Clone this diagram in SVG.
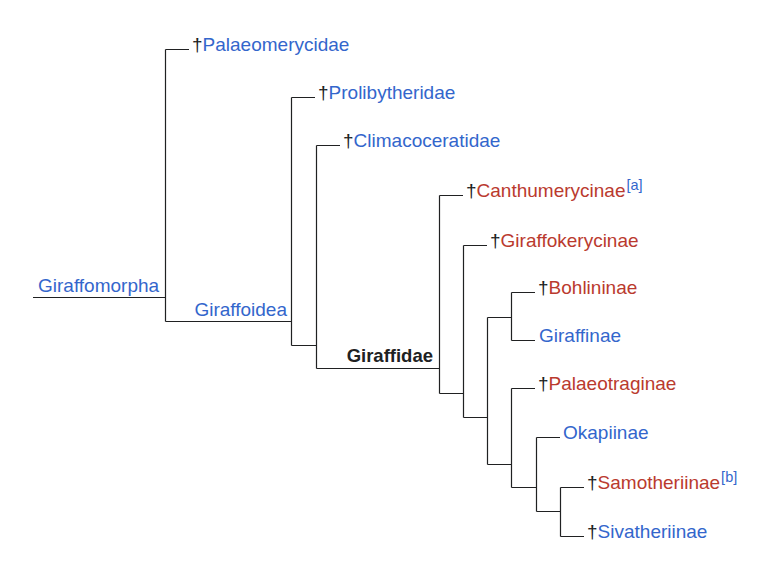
<svg xmlns="http://www.w3.org/2000/svg" width="772" height="577" viewBox="0 0 772 577">
<style>
text{font-family:"Liberation Sans",Arial,sans-serif;font-size:19px}
.b{fill:#3366cc}
.r{fill:#ba3a2e}
.k{fill:#202122}
.bold{font-weight:bold;font-size:18.5px}
.sup{font-size:14.5px}
#connectors path{stroke:#202122;stroke-width:1.2;fill:none}
</style>
<rect width="772" height="577" fill="#ffffff"/>
<g id="connectors">
<path d="M33 297.5H165.5M165.5 49.5V321.5M165.5 49.5H189M165.5 321.5H291.5"/>
<path d="M291.5 97.5V345.5M291.5 97.5H315M291.5 345.5H316.5"/>
<path d="M316.5 145.5V368.5M316.5 145.5H340M316.5 368.5H439.5"/>
<path d="M439.5 195.5V393.5M439.5 195.5H463M439.5 393.5H463.5"/>
<path d="M463.5 245.5V417.5M463.5 245.5H487M463.5 417.5H487.5"/>
<path d="M487.5 317.5V464.5M487.5 317.5H511.5M511.5 292.5V340.5M511.5 292.5H535M511.5 340.5H535"/>
<path d="M487.5 464.5H511.5M511.5 388.5V487.5M511.5 388.5H535M511.5 487.5H536.5"/>
<path d="M536.5 437.5V511.5M536.5 437.5H560M536.5 511.5H560.5M560.5 487.5V536.5M560.5 487.5H584M560.5 536.5H584"/>
</g>
<g id="giraffomorpha"><text x="38" y="292" class="b">Giraffomorpha</text></g>
<g id="palaeomerycidae"><text x="192" y="51" class="k">†<tspan class="b">Palaeomerycidae</tspan></text></g>
<g id="giraffoidea"><text x="287" y="316" class="b" text-anchor="end">Giraffoidea</text></g>
<g id="prolibytheridae"><text x="318" y="99" class="k">†<tspan class="b">Prolibytheridae</tspan></text></g>
<g id="climacoceratidae"><text x="343" y="147" class="k">†<tspan class="b">Climacoceratidae</tspan></text></g>
<g id="giraffidae"><text x="433" y="362" class="k bold" text-anchor="end">Giraffidae</text></g>
<g id="canthumerycinae"><text x="466" y="197" class="k">†<tspan class="r">Canthumerycinae</tspan><tspan class="b sup" dx="1" dy="-7">[a]</tspan></text></g>
<g id="giraffokerycinae"><text x="490" y="247" class="k">†<tspan class="r">Giraffokerycinae</tspan></text></g>
<g id="bohlininae"><text x="538" y="294" class="k">†<tspan class="r">Bohlininae</tspan></text></g>
<g id="giraffinae"><text x="539" y="342" class="b">Giraffinae</text></g>
<g id="palaeotraginae"><text x="538" y="390" class="k">†<tspan class="r">Palaeotraginae</tspan></text></g>
<g id="okapiinae"><text x="563" y="439" class="b">Okapiinae</text></g>
<g id="samotheriinae"><text x="587" y="489" class="k">†<tspan class="r">Samotheriinae</tspan><tspan class="b sup" dx="1" dy="-7">[b]</tspan></text></g>
<g id="sivatheriinae"><text x="587" y="538" class="k">†<tspan class="b">Sivatheriinae</tspan></text></g>
</svg>
